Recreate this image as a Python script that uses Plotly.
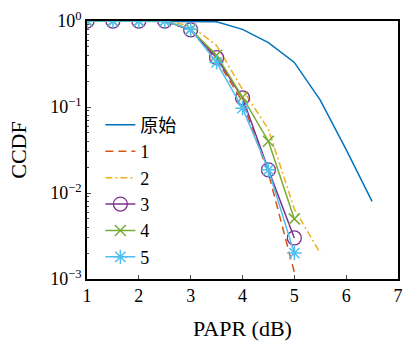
import plotly.graph_objects as go

x_orig = [1, 1.5, 2, 2.5, 3, 3.5, 4, 4.5, 5, 5.5, 6, 6.5]
y_orig = [1, 1, 1, 1, 1.0, 0.98, 0.80, 0.56, 0.33, 0.12, 0.032, 0.008]

x_1 = [1, 1.5, 2, 2.5, 3, 3.5, 4, 4.5, 5]
y_1 = [1, 1, 1, 1, 0.78, 0.36, 0.115, 0.017, 0.0012]

x_2 = [1, 1.5, 2, 2.5, 3, 3.5, 4, 4.5, 5, 5.5]
y_2 = [1, 1, 1, 1, 0.88, 0.52, 0.16, 0.055, 0.0065, 0.002]

x_3 = [1, 1.5, 2, 2.5, 3, 3.5, 4, 4.5, 5]
y_3 = [1, 1, 1, 1, 0.79, 0.375, 0.128, 0.0186, 0.003]

x_4 = [1, 1.5, 2, 2.5, 3, 3.5, 4, 4.5, 5]
y_4 = [1, 1, 1, 1, 0.8, 0.40, 0.13, 0.04, 0.005]

x_5 = [1, 1.5, 2, 2.5, 3, 3.5, 4, 4.5, 5]
y_5 = [1, 1, 1, 1, 0.8, 0.33, 0.097, 0.0186, 0.002]

names = ["原始", "1", "2", "3", "4", "5"]
colors = ["#0072BD", "#D95319", "#EDB120", "#7E2F8E", "#77AC30", "#4DBEEE"]

y_tickvals = [1e-3, 1e-2, 1e-1, 1]
y_ticktext = ["10<sup>−3</sup>", "10<sup>−2</sup>", "10<sup>−1</sup>", "10<sup>0</sup>"]
x_tickvals = [1, 2, 3, 4, 5, 6, 7]

font_serif = "Liberation Serif, DejaVu Serif, serif"

fig = go.Figure()
fig.add_trace(go.Scatter(x=x_orig, y=y_orig, name=names[0], mode="lines",
                         line=dict(color=colors[0], width=1.5)))
fig.add_trace(go.Scatter(x=x_1, y=y_1, name=names[1], mode="lines",
                         line=dict(color=colors[1], width=1.5, dash="8px,5px")))
fig.add_trace(go.Scatter(x=x_2, y=y_2, name=names[2], mode="lines",
                         line=dict(color=colors[2], width=1.5, dash="7px,3px,2px,3px")))
fig.add_trace(go.Scatter(x=x_3, y=y_3, name=names[3], mode="lines+markers",
                         line=dict(color=colors[3], width=1.5),
                         marker=dict(symbol="circle-open", size=14, color=colors[3],
                                     line=dict(width=1.3, color=colors[3]))))
fig.add_trace(go.Scatter(x=x_4, y=y_4, name=names[4], mode="lines+markers",
                         line=dict(color=colors[4], width=1.5),
                         marker=dict(symbol="x-thin-open", size=11, color=colors[4],
                                     line=dict(width=1.5, color=colors[4]))))
fig.add_trace(go.Scatter(x=x_5, y=y_5, name=names[5], mode="lines+markers",
                         line=dict(color=colors[5], width=1.5),
                         marker=dict(symbol="asterisk-open", size=12, color=colors[5],
                                     line=dict(width=1.5, color=colors[5]))))

minor_vals = [m * 10.0 ** e for e in (-3, -2, -1) for m in range(2, 10)]

fig.update_layout(
    width=406, height=343,
    margin=dict(l=87, r=8, t=21, b=64),
    paper_bgcolor="white", plot_bgcolor="white",
    font=dict(family=font_serif, size=18, color="black"),
    showlegend=True,
    legend=dict(x=0.043, y=0.668, xanchor="left", yanchor="top",
                bgcolor="rgba(0,0,0,0)", borderwidth=0,
                font=dict(family="Liberation Serif, Noto Sans CJK SC", size=18),
                tracegroupgap=0, itemwidth=30),
)
fig.update_xaxes(range=[1, 7], tickvals=x_tickvals, ticks="inside", ticklen=4,
                 showline=True, linecolor="black", linewidth=1.5, mirror=True,
                 showgrid=False, zeroline=False, automargin=False,
                 title=dict(text="PAPR (dB)", standoff=15),
                 tickfont=dict(size=18))
fig.update_yaxes(type="log", range=[-3, 0], tickvals=y_tickvals, ticktext=y_ticktext,
                 ticks="inside", ticklen=4, automargin=False,
                 minor=dict(tickvals=minor_vals, ticks="inside", ticklen=2, showgrid=False),
                 showline=True, linecolor="black", linewidth=1.5, mirror=True,
                 showgrid=False, zeroline=False,
                 title=dict(text="CCDF", standoff=18),
                 tickfont=dict(size=18))

fig.write_html("out.html", config={"displayModeBar": False},
               post_script="document.body.style.margin='0';document.body.style.overflow='hidden';")
